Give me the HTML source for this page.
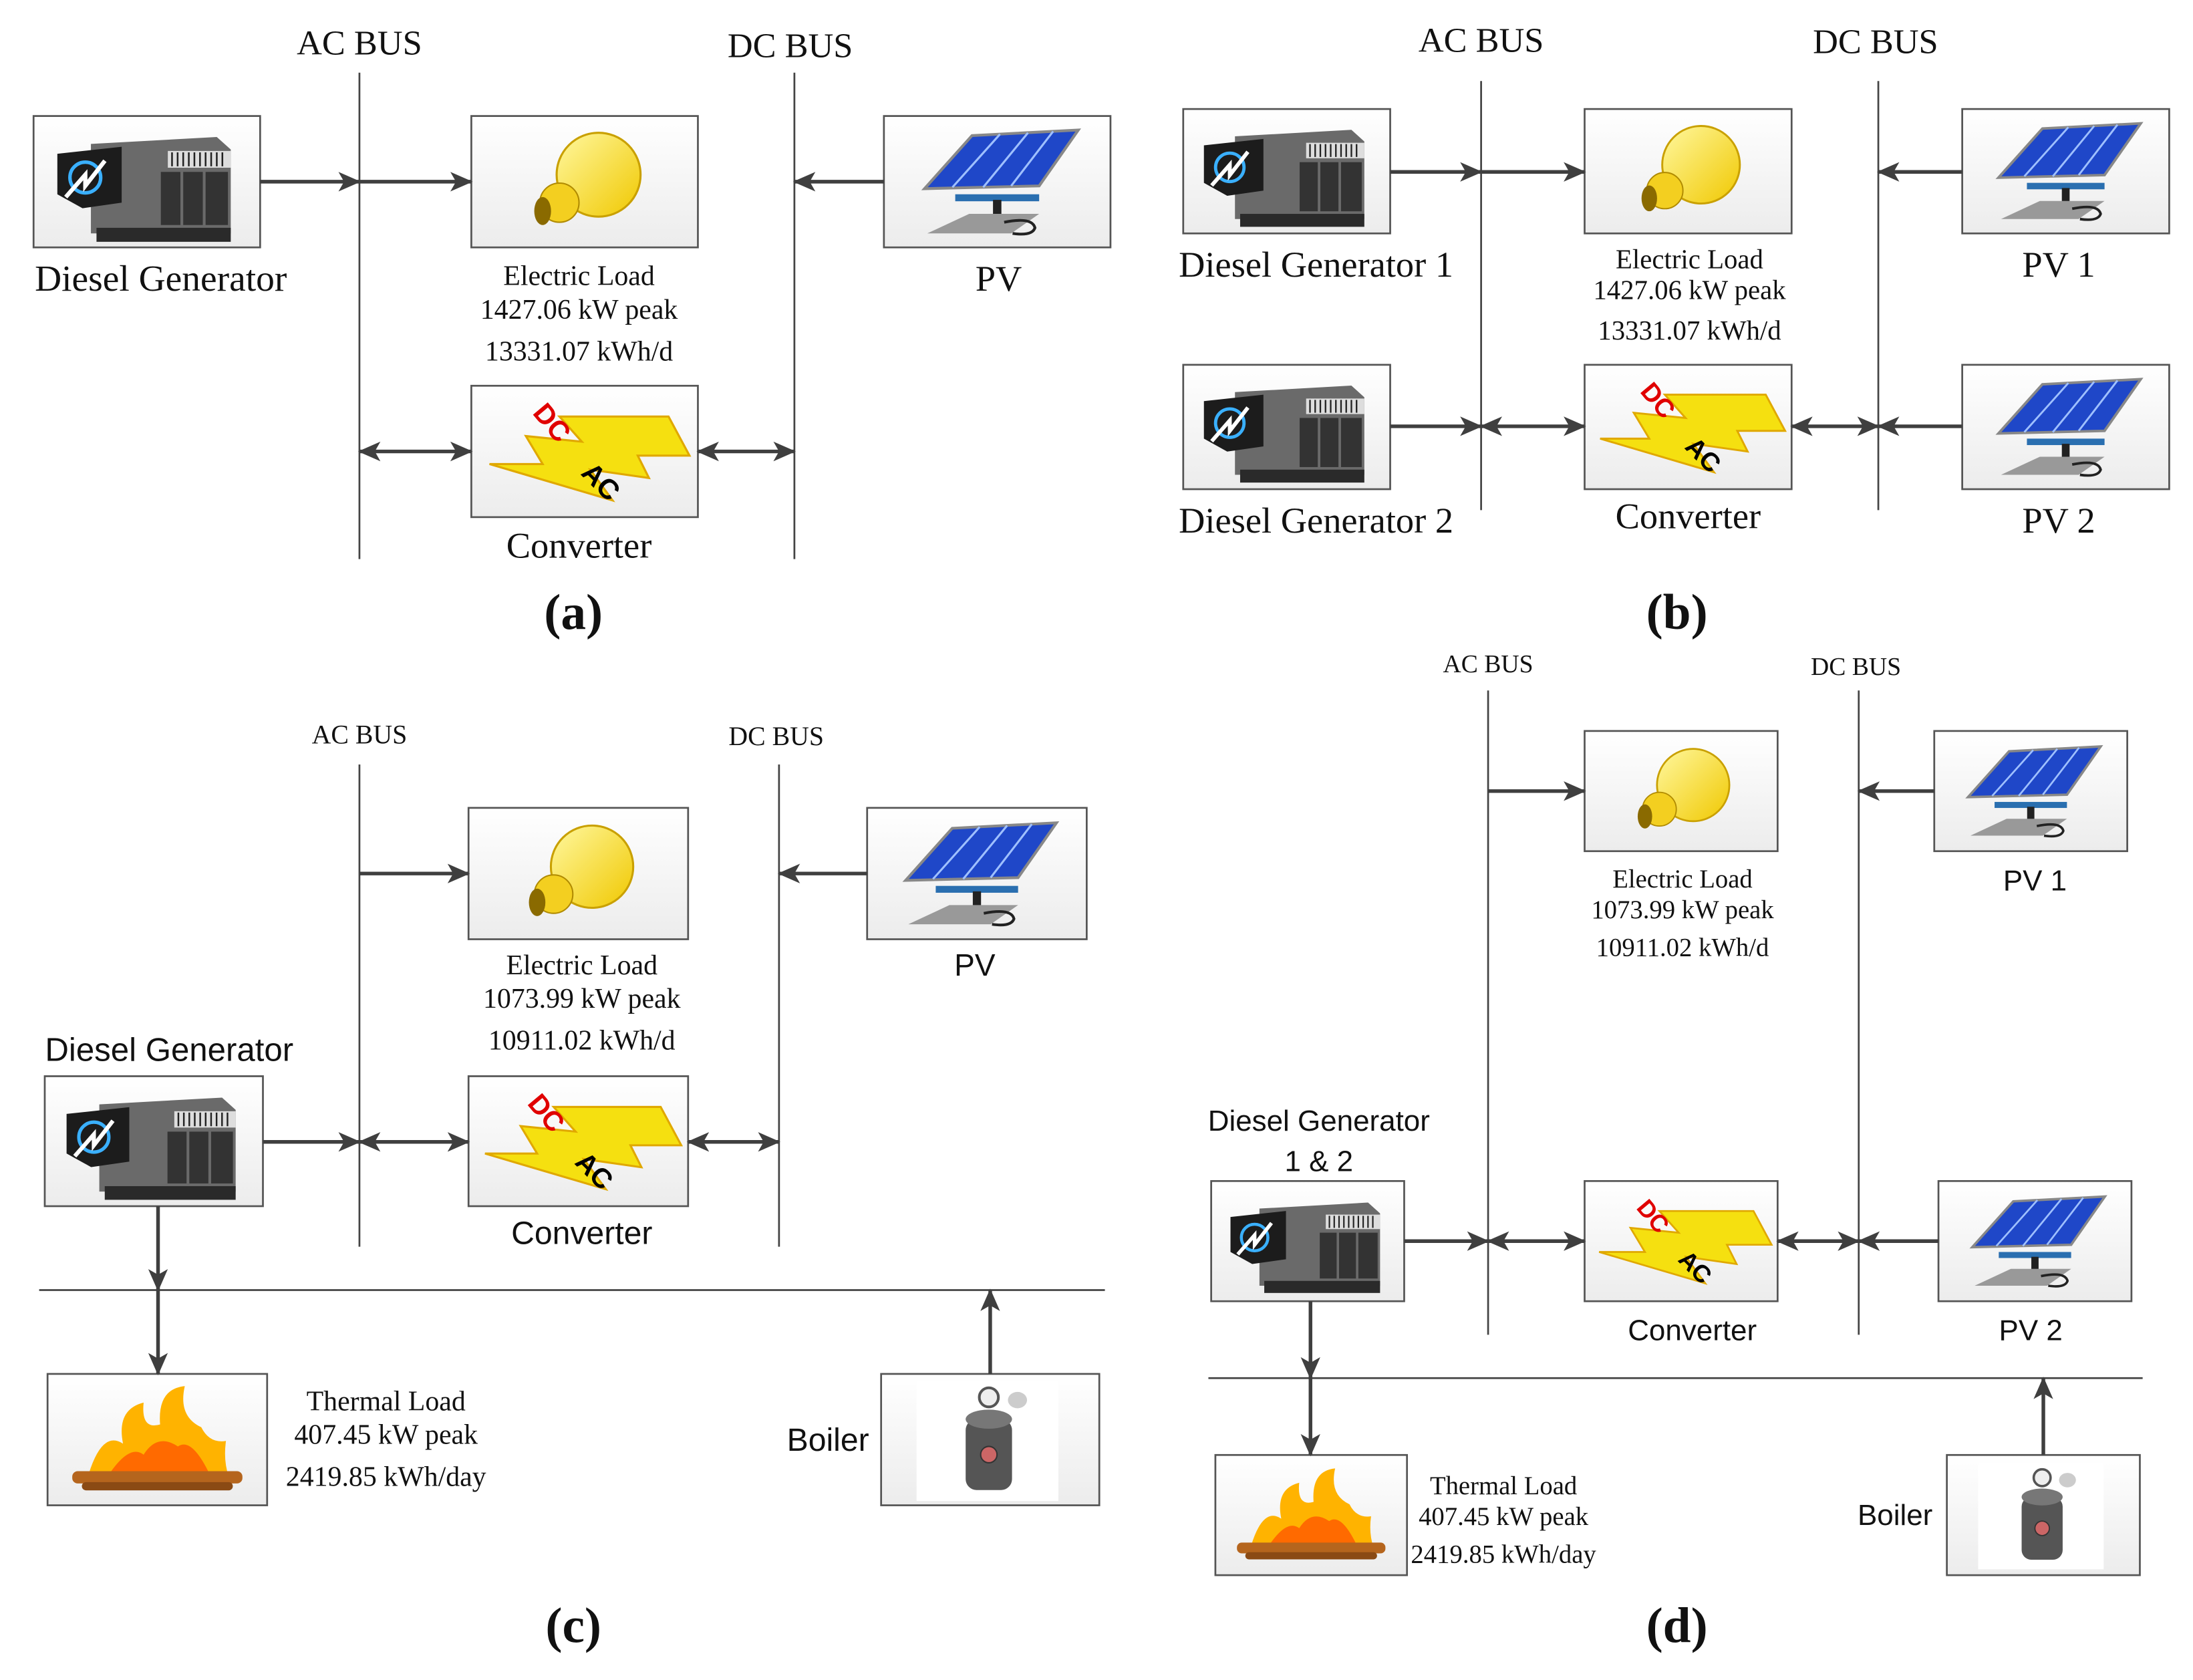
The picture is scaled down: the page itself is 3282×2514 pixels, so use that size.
<!DOCTYPE html>
<html><head><meta charset="utf-8"><style>
html,body{margin:0;padding:0;background:#fff;}
svg{display:block;}
.s{font-family:"Liberation Serif",serif;fill:#111;}
.a{font-family:"Liberation Sans",sans-serif;fill:#111;}
.bus{stroke:#444;stroke-width:1.3;}
.ln{stroke:#3f3f3f;stroke-width:2.6;fill:none;}
.box{fill:url(#bg);stroke:#555;stroke-width:1.3;}
</style></head><body>
<svg width="3282" height="2514" viewBox="0 0 1568 1202" preserveAspectRatio="none" xmlns="http://www.w3.org/2000/svg">
<defs>
<linearGradient id="bg" x1="0" y1="0" x2="0" y2="1"><stop offset="0" stop-color="#ffffff"/><stop offset="1" stop-color="#ececec"/></linearGradient>
<linearGradient id="yl" x1="0" y1="0" x2="1" y2="1"><stop offset="0" stop-color="#fff8a0"/><stop offset="1" stop-color="#f0c800"/></linearGradient>
<marker id="ah" markerUnits="userSpaceOnUse" markerWidth="16" markerHeight="16" viewBox="0 0 16 16" refX="15" refY="8" orient="auto-start-reverse"><path d="M0,1 L16,8 L0,15 L4,8 Z" fill="#3f3f3f"/></marker>
<symbol id="gen" viewBox="0 0 160 94">
<polygon points="40,20 130,15 140,24 140,84 40,84" fill="#6a6a6a"/>
<rect x="95" y="25" width="45" height="12" fill="#ddd"/>
<g stroke="#222" stroke-width="1.2"><line x1="98" y1="26" x2="98" y2="36"/><line x1="102" y1="26" x2="102" y2="36"/><line x1="106" y1="26" x2="106" y2="36"/><line x1="110" y1="26" x2="110" y2="36"/><line x1="114" y1="26" x2="114" y2="36"/><line x1="118" y1="26" x2="118" y2="36"/><line x1="122" y1="26" x2="122" y2="36"/><line x1="126" y1="26" x2="126" y2="36"/><line x1="130" y1="26" x2="130" y2="36"/><line x1="134" y1="26" x2="134" y2="36"/></g>
<rect x="90" y="40" width="14" height="38" fill="#333"/><rect x="106" y="40" width="14" height="38" fill="#333"/><rect x="122" y="40" width="16" height="38" fill="#333"/>
<polygon points="16,27 62,22 62,62 34,66 16,56" fill="#1c1c1c"/>
<circle cx="36" cy="44" r="11" fill="none" stroke="#3ab0ff" stroke-width="2.5"/>
<path d="M22,58 L36,42 L36,50 L50,32" stroke="#fff" stroke-width="3" fill="none"/>
<rect x="44" y="80" width="96" height="10" fill="#2a2a2a"/>
</symbol>
<symbol id="bulb" viewBox="0 0 160 94">
<ellipse cx="90" cy="42" rx="30" ry="30" fill="url(#yl)" stroke="#c9a000" stroke-width="1.5"/>
<ellipse cx="62" cy="62" rx="14" ry="14" fill="#f3cf20" stroke="#b08a00"/>
<ellipse cx="50" cy="68" rx="6" ry="10" fill="#8a6a00"/>
</symbol>
<symbol id="pv" viewBox="0 0 160 94">
<polygon points="28,52 62,14 138,10 110,50" fill="#1f47c8" stroke="#888" stroke-width="2"/>
<g stroke="#9fc0ff" stroke-width="1.5"><line x1="48" y1="51" x2="82" y2="13"/><line x1="70" y1="51" x2="102" y2="12"/><line x1="90" y1="50" x2="120" y2="11"/></g>
<rect x="50" y="56" width="60" height="5" fill="#2a6fb0"/>
<rect x="77" y="60" width="6" height="16" fill="#222"/>
<polygon points="30,84 60,70 110,70 90,84" fill="#999"/>
<path d="M85,76 q20,-4 22,4 q-2,6 -16,4" stroke="#222" stroke-width="2" fill="none"/>
</symbol>
<symbol id="conv" viewBox="0 0 160 94">
<polygon points="62,22 140,22 155,50 118,50 126,66 84,60 100,82 12,56 50,56 38,36 78,40" fill="#f5e010" stroke="#e0a800" stroke-width="1.5"/>
<text x="44" y="28" transform="rotate(50 52 22)" font-family="Liberation Sans,sans-serif" font-weight="bold" font-size="20" fill="#e00000">DC</text>
<text x="78" y="72" transform="rotate(45 88 66)" font-family="Liberation Sans,sans-serif" font-weight="bold" font-size="20" fill="#000">AC</text>
</symbol>
<symbol id="fire" viewBox="0 0 160 94">
<path d="M30,72 Q40,40 55,50 Q50,25 70,20 Q68,40 82,36 Q80,10 100,8 Q95,30 112,38 Q118,50 130,48 Q128,62 132,74 Z" fill="#ffb300"/>
<path d="M45,72 Q60,50 70,58 Q80,42 95,52 Q105,45 118,72 Z" fill="#ff6a00"/>
<rect x="18" y="70" width="124" height="9" rx="4" fill="#b5651d"/>
<rect x="25" y="78" width="110" height="6" rx="3" fill="#8a4a14"/>
</symbol>
<symbol id="boiler" viewBox="0 0 160 94">
<rect x="26" y="4" width="104" height="88" fill="#fff"/>
<rect x="62" y="32" width="34" height="52" rx="8" fill="#555"/>
<ellipse cx="79" cy="32" rx="17" ry="7" fill="#777"/>
<circle cx="79" cy="16" r="7" fill="#eee" stroke="#555" stroke-width="2"/>
<circle cx="79" cy="58" r="6" fill="#c66" stroke="#333"/>
<ellipse cx="100" cy="18" rx="7" ry="6" fill="#ccc"/>
</symbol>
</defs>

<!-- (a) -->
<text class="s" x="257" y="39" font-size="25" text-anchor="middle">AC BUS</text>
<text class="s" x="565" y="41" font-size="25" text-anchor="middle">DC BUS</text>
<line class="bus" x1="257" y1="52" x2="257" y2="400"/><line class="bus" x1="568" y1="52" x2="568" y2="400"/>
<rect class="box" x="24" y="83" width="162" height="94"/><use href="#gen" x="24" y="83" width="162" height="94"/>
<rect class="box" x="337" y="83" width="162" height="94"/><use href="#bulb" x="337" y="83" width="162" height="94"/>
<rect class="box" x="632" y="83" width="162" height="94"/><use href="#pv" x="632" y="83" width="162" height="94"/>
<rect class="box" x="337" y="276" width="162" height="94"/><use href="#conv" x="337" y="276" width="162" height="94"/>
<path class="ln" d="M186,130 H257" marker-end="url(#ah)"/><path class="ln" d="M257,130 H337" marker-end="url(#ah)"/>
<path class="ln" d="M632,130 H568" marker-end="url(#ah)"/>
<path class="ln" d="M257,323 H337" marker-start="url(#ah)" marker-end="url(#ah)"/>
<path class="ln" d="M499,323 H568" marker-start="url(#ah)" marker-end="url(#ah)"/>
<text class="s" x="115" y="208" font-size="26.5" text-anchor="middle">Diesel Generator</text>
<text class="s" x="714" y="208" font-size="26" text-anchor="middle">PV</text>
<text class="s" x="414" y="204" font-size="20" text-anchor="middle">Electric Load</text>
<text class="s" x="414" y="228" font-size="20" text-anchor="middle">1427.06 kW peak</text>
<text class="s" x="414" y="258" font-size="20" text-anchor="middle">13331.07 kWh/d</text>
<text class="s" x="414" y="399" font-size="26" text-anchor="middle">Converter</text>
<text class="s" x="410" y="450" font-size="36" font-weight="bold" text-anchor="middle">(a)</text>

<!-- (b) -->
<text class="s" x="1059" y="37" font-size="25" text-anchor="middle">AC BUS</text>
<text class="s" x="1341" y="38" font-size="25" text-anchor="middle">DC BUS</text>
<line class="bus" x1="1059" y1="58" x2="1059" y2="365"/><line class="bus" x1="1343" y1="58" x2="1343" y2="365"/>
<rect class="box" x="846" y="78" width="148" height="89"/><use href="#gen" x="846" y="78" width="148" height="89"/>
<rect class="box" x="1133" y="78" width="148" height="89"/><use href="#bulb" x="1133" y="78" width="148" height="89"/>
<rect class="box" x="1403" y="78" width="148" height="89"/><use href="#pv" x="1403" y="78" width="148" height="89"/>
<rect class="box" x="846" y="261" width="148" height="89"/><use href="#gen" x="846" y="261" width="148" height="89"/>
<rect class="box" x="1133" y="261" width="148" height="89"/><use href="#conv" x="1133" y="261" width="148" height="89"/>
<rect class="box" x="1403" y="261" width="148" height="89"/><use href="#pv" x="1403" y="261" width="148" height="89"/>
<path class="ln" d="M994,123 H1059" marker-end="url(#ah)"/><path class="ln" d="M1059,123 H1133" marker-end="url(#ah)"/>
<path class="ln" d="M1403,123 H1343" marker-end="url(#ah)"/>
<path class="ln" d="M994,305 H1059" marker-end="url(#ah)"/>
<path class="ln" d="M1059,305 H1133" marker-start="url(#ah)" marker-end="url(#ah)"/>
<path class="ln" d="M1281,305 H1343" marker-start="url(#ah)" marker-end="url(#ah)"/>
<path class="ln" d="M1403,305 H1343" marker-end="url(#ah)"/>
<text class="s" x="941" y="198" font-size="26" text-anchor="middle">Diesel Generator 1</text>
<text class="s" x="941" y="381" font-size="26" text-anchor="middle">Diesel Generator 2</text>
<text class="s" x="1472" y="198" font-size="26" text-anchor="middle">PV 1</text>
<text class="s" x="1472" y="381" font-size="26" text-anchor="middle">PV 2</text>
<text class="s" x="1208" y="192" font-size="19.5" text-anchor="middle">Electric Load</text>
<text class="s" x="1208" y="214" font-size="19.5" text-anchor="middle">1427.06 kW peak</text>
<text class="s" x="1208" y="243" font-size="19.5" text-anchor="middle">13331.07 kWh/d</text>
<text class="s" x="1207" y="378" font-size="26" text-anchor="middle">Converter</text>
<text class="s" x="1199" y="450" font-size="36" font-weight="bold" text-anchor="middle">(b)</text>

<!-- (c) -->
<text class="s" x="257" y="532" font-size="19" text-anchor="middle">AC BUS</text>
<text class="s" x="555" y="533" font-size="19" text-anchor="middle">DC BUS</text>
<line class="bus" x1="257" y1="547" x2="257" y2="892"/><line class="bus" x1="557" y1="547" x2="557" y2="892"/>
<rect class="box" x="335" y="578" width="157" height="94"/><use href="#bulb" x="335" y="578" width="157" height="94"/>
<rect class="box" x="620" y="578" width="157" height="94"/><use href="#pv" x="620" y="578" width="157" height="94"/>
<rect class="box" x="32" y="770" width="156" height="93"/><use href="#gen" x="32" y="770" width="156" height="93"/>
<rect class="box" x="335" y="770" width="157" height="93"/><use href="#conv" x="335" y="770" width="157" height="93"/>
<rect class="box" x="34" y="983" width="157" height="94"/><use href="#fire" x="34" y="983" width="157" height="94"/>
<rect class="box" x="630" y="983" width="156" height="94"/><use href="#boiler" x="630" y="983" width="156" height="94"/>
<path class="ln" d="M257,625 H335" marker-end="url(#ah)"/>
<path class="ln" d="M620,625 H557" marker-end="url(#ah)"/>
<path class="ln" d="M188,817 H257" marker-end="url(#ah)"/>
<path class="ln" d="M257,817 H335" marker-start="url(#ah)" marker-end="url(#ah)"/>
<path class="ln" d="M492,817 H557" marker-start="url(#ah)" marker-end="url(#ah)"/>
<line class="bus" x1="28" y1="923" x2="790" y2="923"/>
<path class="ln" d="M113,863 V923" marker-end="url(#ah)"/><path class="ln" d="M113,923 V983" marker-end="url(#ah)"/>
<path class="ln" d="M708,983 V923" marker-end="url(#ah)"/>
<text class="a" x="697" y="698" font-size="22" text-anchor="middle">PV</text>
<text class="s" x="416" y="697" font-size="20" text-anchor="middle">Electric Load</text>
<text class="s" x="416" y="721" font-size="20" text-anchor="middle">1073.99 kW peak</text>
<text class="s" x="416" y="751" font-size="20" text-anchor="middle">10911.02 kWh/d</text>
<text class="a" x="121" y="759" font-size="23.5" text-anchor="middle">Diesel Generator</text>
<text class="a" x="416" y="890" font-size="23" text-anchor="middle">Converter</text>
<text class="s" x="276" y="1009" font-size="20" text-anchor="middle">Thermal Load</text>
<text class="s" x="276" y="1033" font-size="20" text-anchor="middle">407.45 kW peak</text>
<text class="s" x="276" y="1063" font-size="20" text-anchor="middle">2419.85 kWh/day</text>
<text class="a" x="592" y="1038" font-size="23" text-anchor="middle">Boiler</text>
<text class="s" x="410" y="1175" font-size="36" font-weight="bold" text-anchor="middle">(c)</text>

<!-- (d) -->
<text class="s" x="1064" y="481" font-size="18" text-anchor="middle">AC BUS</text>
<text class="s" x="1327" y="483" font-size="18" text-anchor="middle">DC BUS</text>
<line class="bus" x1="1064" y1="494" x2="1064" y2="955"/><line class="bus" x1="1329" y1="494" x2="1329" y2="955"/>
<rect class="box" x="1133" y="523" width="138" height="86"/><use href="#bulb" x="1133" y="523" width="138" height="86"/>
<rect class="box" x="1383" y="523" width="138" height="86"/><use href="#pv" x="1383" y="523" width="138" height="86"/>
<rect class="box" x="866" y="845" width="138" height="86"/><use href="#gen" x="866" y="845" width="138" height="86"/>
<rect class="box" x="1133" y="845" width="138" height="86"/><use href="#conv" x="1133" y="845" width="138" height="86"/>
<rect class="box" x="1386" y="845" width="138" height="86"/><use href="#pv" x="1386" y="845" width="138" height="86"/>
<rect class="box" x="869" y="1041" width="137" height="86"/><use href="#fire" x="869" y="1041" width="137" height="86"/>
<rect class="box" x="1392" y="1041" width="138" height="86"/><use href="#boiler" x="1392" y="1041" width="138" height="86"/>
<path class="ln" d="M1064,566 H1133" marker-end="url(#ah)"/>
<path class="ln" d="M1383,566 H1329" marker-end="url(#ah)"/>
<path class="ln" d="M1004,888 H1064" marker-end="url(#ah)"/>
<path class="ln" d="M1064,888 H1133" marker-start="url(#ah)" marker-end="url(#ah)"/>
<path class="ln" d="M1271,888 H1329" marker-start="url(#ah)" marker-end="url(#ah)"/>
<path class="ln" d="M1386,888 H1329" marker-end="url(#ah)"/>
<line class="bus" x1="864" y1="986" x2="1532" y2="986"/>
<path class="ln" d="M937,931 V986" marker-end="url(#ah)"/><path class="ln" d="M937,986 V1041" marker-end="url(#ah)"/>
<path class="ln" d="M1461,1041 V986" marker-end="url(#ah)"/>
<text class="s" x="1203" y="635" font-size="18.5" text-anchor="middle">Electric Load</text>
<text class="s" x="1203" y="657" font-size="18.5" text-anchor="middle">1073.99 kW peak</text>
<text class="s" x="1203" y="684" font-size="18.5" text-anchor="middle">10911.02 kWh/d</text>
<text class="a" x="1455" y="637" font-size="21" text-anchor="middle">PV 1</text>
<text class="a" x="943" y="809" font-size="21" text-anchor="middle">Diesel Generator</text>
<text class="a" x="943" y="838" font-size="21" text-anchor="middle">1 &amp; 2</text>
<text class="a" x="1210" y="959" font-size="21" text-anchor="middle">Converter</text>
<text class="a" x="1452" y="959" font-size="21" text-anchor="middle">PV 2</text>
<text class="s" x="1075" y="1069" font-size="18.5" text-anchor="middle">Thermal Load</text>
<text class="s" x="1075" y="1091" font-size="18.5" text-anchor="middle">407.45 kW peak</text>
<text class="s" x="1075" y="1118" font-size="18.5" text-anchor="middle">2419.85 kWh/day</text>
<text class="a" x="1355" y="1091" font-size="21" text-anchor="middle">Boiler</text>
<text class="s" x="1199" y="1175" font-size="36" font-weight="bold" text-anchor="middle">(d)</text>
</svg>
</body></html>
